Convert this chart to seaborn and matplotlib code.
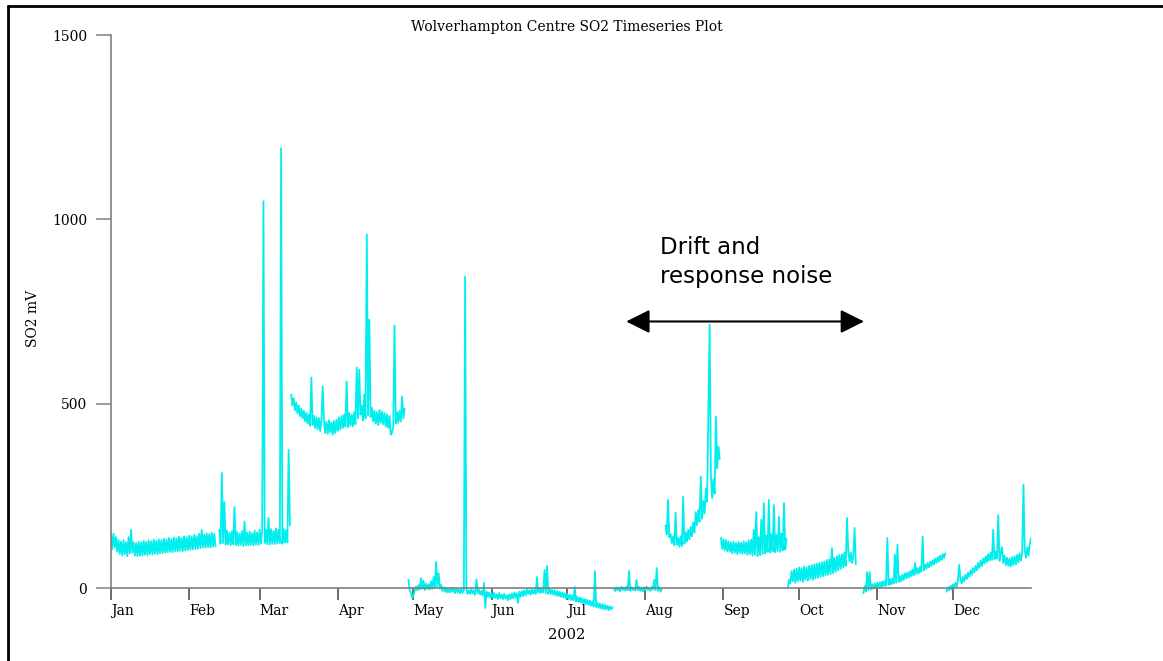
import pandas as pd
import numpy as np
import seaborn as sns
import matplotlib.pyplot as plt
import matplotlib.dates as mdates
from matplotlib.lines import Line2D

# SO2 analyser output, half-day readings, day 0 = 1 Jan 2002
seg_starts = [0, 43, 71.5, 118, 199.5, 220, 242, 268.5, 298.5, 331.5]

seg_jan = [150, 105, 148, 110, 138, 98,
           130, 92, 126, 88, 130, 92, 124, 86,
           138, 94, 158, 96, 124, 88, 122, 86, 125, 88,
           124, 88, 128, 90, 125, 89, 129, 92, 127, 91,
           131, 93, 128, 92, 132, 94, 130, 95, 134, 96,
           132, 97, 136, 98, 133, 97, 137, 100, 135, 99,
           139, 101, 136, 100, 140, 102, 138, 103, 142, 104,
           140, 105, 144, 106, 141, 107, 147, 108, 158, 110,
           145, 109, 148, 111, 146, 110, 150, 112, 147, 113]
seg_feb = [158, 120, 312, 122, 233, 118,
           156, 118, 150, 116, 154, 119, 220, 117,
           152, 115, 148, 117, 154, 114, 180, 116, 150, 115,
           153, 117, 149, 116, 156, 118, 151, 117, 158, 120,
           155, 1049, 122, 157, 119, 190, 118, 160, 120, 155,
           119, 162, 121, 158, 122, 1193, 120, 160, 123, 157,
           124, 375, 170]
seg_mar = [525, 495, 515, 482, 503, 474, 495, 466,
           487, 460, 481, 452, 475, 446, 471, 440,
           571, 442, 467, 434, 463, 430, 461, 426,
           457, 547, 453, 420, 451, 418, 455, 422,
           449, 416, 453, 420, 457, 426, 463, 430,
           467, 434, 471, 438, 560, 436, 475, 440,
           471, 438, 477, 444, 598, 460, 592, 470,
           495, 454, 525, 460, 959, 468, 728, 464,
           489, 452, 481, 446, 477, 442, 483, 448,
           479, 444, 475, 438, 471, 434, 467, 416,
           421, 438, 712, 446, 477, 448, 481, 452,
           519, 460, 487]
seg_may = [22, -5, -12, -27, -20, -8, 4, -6,
           8, -4, 27, -2, 20, -6, 12, -3,
           10, -4, 18, -2, 30, 0, 71, 5,
           40, -2, 8, -8, 2, -10, 0, -12,
           -2, -12, 1, -10, -3, -14, 0, -12,
           -4, -15, -2, -13, -5, 845, -4, -16,
           -6, -16, -3, -15, -7, -18, 24, -14,
           -5, -18, -8, -20, 14, -54, -10, -24,
           -12, -26, -15, -28, -13, -27, -17, -30,
           -14, -28, -18, -30, -16, -29, -20, -33,
           -17, -30, -15, -28, -12, -26, -14, -41,
           -10, -24, -8, -22, -6, -20, -4, -16,
           -6, -18, -3, -15, -5, -16, 30, -12,
           -2, -14, 0, -12, 49, -14, 60, -16,
           -2, -16, -5, -18, -6, -20, -8, -22,
           -10, -24, -12, -26, -14, -28, -16, -30,
           -18, -32, -20, -34, 3, -36, -24, -38,
           -26, -40, -28, -42, -30, -44, -32, -46,
           -34, -48, -36, -50, 46, -52, -40, -54,
           -42, -56, -44, -58, -46, -58, -48, -60,
           -50, -58, -52]
seg_jul = [-2, -8, 2, -6, 0, -9, 3, -5,
           1, -7, 4, -6, 46, -8, 2, -5,
           0, -7, 22, -6, 3, -8, 1, -9,
           2, -6, 4, -5, 0, -8, 3, -4,
           22, -6, 54, -8, 2, -10, -4]
seg_aug = [170, 145, 239, 138, 146, 122, 140, 116,
           204, 118, 136, 112, 140, 114, 247, 120,
           152, 126, 158, 132, 166, 140, 178, 150,
           206, 170, 212, 180, 302, 188, 236, 202,
           270, 234, 475, 715, 305, 244, 295, 256,
           465, 325, 383, 350]
seg_sep = [136, 106, 132, 102, 130, 100, 126, 98,
           124, 94, 126, 96, 122, 92, 125, 95,
           123, 93, 127, 94, 124, 90, 129, 92,
           131, 88, 158, 90, 206, 86, 138, 89,
           185, 92, 230, 94, 142, 98, 239, 96,
           146, 99, 225, 97, 144, 100, 193, 98,
           148, 102, 230, 104, 134]
seg_oct = [0, 22, 12, 46, 18, 50, 14, 52,
           18, 56, 20, 54, 16, 58, 22, 56,
           20, 60, 24, 62, 22, 64, 26, 66,
           28, 68, 30, 70, 32, 72, 34, 76,
           36, 78, 38, 108, 40, 82, 44, 86,
           48, 90, 52, 92, 56, 96, 60, 190,
           100, 72, 96, 68, 88, 163, 64]
seg_nov = [-14, 5, -10, 43, -6, 43, -4, 10,
           -2, 12, 0, 14, 1, 16, 3, 18,
           4, 20, 6, 136, 8, 24, 10, 26,
           12, 90, 14, 117, 16, 32, 18, 36,
           22, 40, 26, 42, 28, 46, 32, 50,
           34, 68, 38, 54, 40, 58, 44, 139,
           48, 64, 52, 68, 56, 72, 60, 76,
           64, 80, 68, 84, 72, 88, 76, 92,
           82, 94]
seg_dec = [-10, 2, -6, 6, -4, 10, 0, 14,
           4, 20, 63, 24, 12, 30, 18, 36,
           24, 42, 30, 48, 36, 54, 42, 60,
           48, 68, 54, 74, 60, 80, 66, 86,
           70, 92, 74, 96, 76, 158, 78, 98,
           80, 198, 74, 94, 111, 68, 88, 62,
           82, 60, 80, 58, 84, 62, 86, 64,
           90, 70, 94, 74, 98, 280, 102, 82,
           110, 88, 118, 136]

seg_values = [seg_jan, seg_feb, seg_mar, seg_may, seg_jul,
              seg_aug, seg_sep, seg_oct, seg_nov, seg_dec]

y_ticks = [0, 500, 1000, 1500]

rows = []
for k, (start, vals) in enumerate(zip(seg_starts, seg_values)):
    for i, v in enumerate(vals):
        rows.append((k, start + 0.5 * i, v))
df = pd.DataFrame(rows, columns=["segment", "day", "mV"])
df["date"] = pd.Timestamp("2002-01-01") + pd.to_timedelta(df["day"], unit="D")

sns.set_style("white")
plt.rcParams["font.family"] = ["DejaVu Serif"]
plt.rcParams["text.color"] = "black"
plt.rcParams["xtick.labelcolor"] = "black"
plt.rcParams["ytick.labelcolor"] = "black"

fig = plt.figure(figsize=(11.63, 6.61), dpi=100)
ax = fig.add_axes([0.0954, 0.0658, 0.7911, 0.8812])

sns.lineplot(data=df, x="date", y="mV", units="segment", estimator=None,
             color="#00EEEE", lw=1.3, ax=ax, legend=False)

ax.set_xlim(pd.Timestamp("2002-01-01"), pd.Timestamp("2002-12-31 23:50"))
ax.set_ylim(-80, 1500)
ax.set_yticks(y_ticks)
ax.set_xlabel("")
ax.set_ylabel("")

ax.xaxis.set_major_locator(mdates.MonthLocator())
ax.xaxis.set_major_formatter(mdates.DateFormatter("%b"))

for side in ["top", "right"]:
    ax.spines[side].set_visible(False)
ax.spines["bottom"].set_position(("data", 0))
ax.spines["left"].set_bounds(0, 1500)
for side in ["bottom", "left"]:
    ax.spines[side].set_color("#808080")
    ax.spines[side].set_linewidth(1.2)

ax.tick_params(axis="x", direction="out", length=8.5, width=1.1, color="#444444",
               pad=3, labelsize=10, bottom=True, labelcolor="black")
ax.tick_params(axis="y", direction="out", length=11, width=1.1, color="#808080",
               pad=6, labelsize=10, left=True, labelcolor="black")

fig.canvas.draw()
plt.setp(ax.get_xticklabels(), ha="left")

# arrow marking the drifting period
ax.annotate("", xy=(pd.Timestamp("2002-10-26 18:00"), 723),
            xytext=(pd.Timestamp("2002-07-24 10:00"), 723),
            arrowprops=dict(arrowstyle="<|-|>,head_length=1.0,head_width=0.5",
                            mutation_scale=14.4, lw=1.5, color="black",
                            shrinkA=0, shrinkB=0))

fig.text(660 / 1163, 1 - 254 / 661, "Drift and", family="DejaVu Sans",
         fontsize=16.5, ha="left", va="baseline")
fig.text(660 / 1163, 1 - 283 / 661, "response noise", family="DejaVu Sans",
         fontsize=16.5, ha="left", va="baseline")

fig.text(567 / 1163, 1 - 27 / 661, "Wolverhampton Centre SO2 Timeseries Plot",
         fontsize=10, ha="center", va="center")
fig.text(567 / 1163, 1 - 635 / 661, "2002", fontsize=10.5, ha="center", va="center")
fig.text(33 / 1163, 1 - 318 / 661, "SO2 mV", fontsize=10, rotation=90,
         ha="center", va="center")

# frame edges left over from the original crop
fig.add_artist(Line2D([8 / 1163, 1], [1 - 6 / 661, 1 - 6 / 661],
                      transform=fig.transFigure, color="black", lw=2))
fig.add_artist(Line2D([8 / 1163, 8 / 1163], [0, 1 - 6 / 661],
                      transform=fig.transFigure, color="black", lw=2))

fig.savefig("out.png", dpi=100)
